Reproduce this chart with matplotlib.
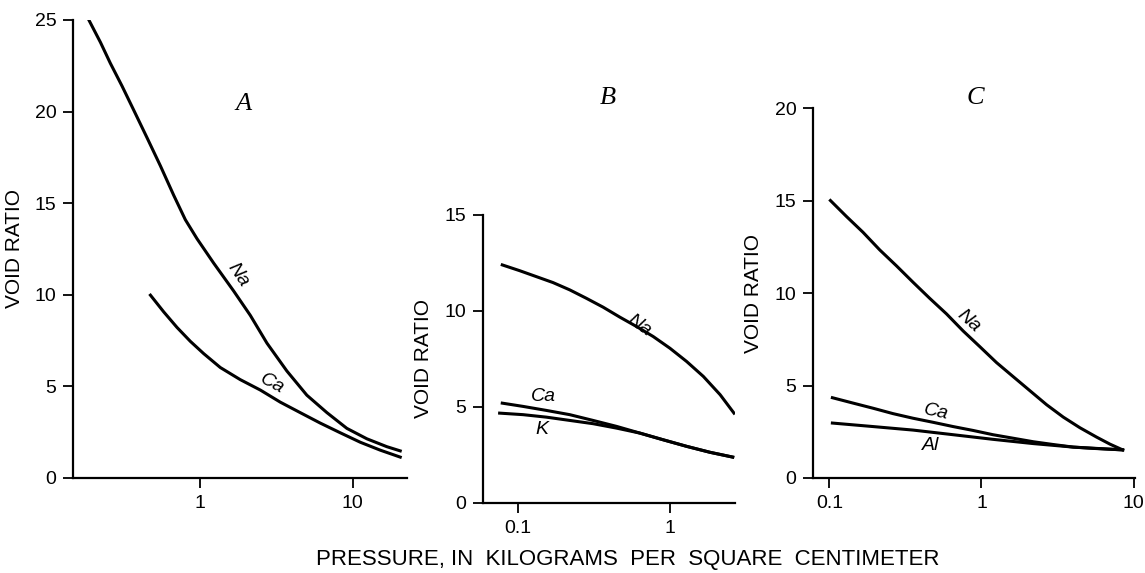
import matplotlib.pyplot as plt
from matplotlib.ticker import NullLocator

plt.rcParams['font.family'] = ['Liberation Sans', 'DejaVu Sans']

# panel A
a_na_x = [0.189, 0.225, 0.261, 0.311, 0.371, 0.454, 0.554, 0.677, 0.806, 0.961,
          1.234, 1.666, 2.14, 2.75, 3.71, 5.01, 6.77, 9.14, 12.35, 16.67, 20.4]
a_na_y = [25.0, 23.78, 22.64, 21.4, 20.08, 18.56, 17.04, 15.43, 14.1, 13.06,
          11.73, 10.21, 8.88, 7.36, 5.84, 4.52, 3.57, 2.71, 2.14, 1.71, 1.48]
a_ca_x = [0.477, 0.582, 0.711, 0.869, 1.062, 1.364, 1.84, 2.49, 3.36, 4.53,
          6.12, 8.27, 11.2, 15.1, 20.4]
a_ca_y = [9.98, 9.07, 8.22, 7.46, 6.79, 6.03, 5.37, 4.80, 4.14, 3.57,
          3.0, 2.47, 1.95, 1.52, 1.14]

# panel B
b_na_x = [0.0788, 0.1025, 0.132, 0.170, 0.219, 0.282, 0.363, 0.468, 0.603, 0.776,
          1.0, 1.288, 1.66, 2.14, 2.64]
b_na_y = [12.40, 12.10, 11.79, 11.48, 11.10, 10.66, 10.20, 9.68, 9.19, 8.67,
          8.06, 7.37, 6.59, 5.64, 4.68]
b_ca_x = [0.0788, 0.108, 0.154, 0.219, 0.312, 0.445, 0.634, 0.904, 1.288, 1.835, 2.59]
b_ca_y = [5.20, 5.03, 4.82, 4.60, 4.30, 3.99, 3.64, 3.29, 2.95, 2.64, 2.39]
b_k_x = [0.0757, 0.108, 0.154, 0.219, 0.312, 0.445, 0.634, 0.904, 1.288, 1.835, 2.59]
b_k_y = [4.68, 4.60, 4.47, 4.30, 4.13, 3.90, 3.64, 3.29, 2.95, 2.64, 2.39]

# panel C
c_na_x = [0.1016, 0.1294, 0.1665, 0.2143, 0.276, 0.355, 0.457, 0.589, 0.757, 0.975,
          1.255, 1.615, 2.08, 2.68, 3.45, 4.43, 5.71, 6.99, 8.47]
c_na_y = [15.0, 14.14, 13.28, 12.33, 11.47, 10.58, 9.71, 8.87, 7.95, 7.10,
          6.24, 5.48, 4.72, 3.96, 3.29, 2.72, 2.21, 1.83, 1.52]
c_ca_x = [0.1047, 0.143, 0.194, 0.262, 0.355, 0.481, 0.651, 0.881, 1.19, 1.615,
          2.19, 2.96, 4.01, 5.43, 8.47]
c_ca_y = [4.34, 4.05, 3.77, 3.48, 3.23, 3.01, 2.78, 2.57, 2.34, 2.15,
          1.96, 1.81, 1.67, 1.60, 1.52]
c_al_x = [0.1047, 0.194, 0.355, 0.651, 1.19, 2.19, 4.01, 8.47]
c_al_y = [2.97, 2.78, 2.59, 2.34, 2.09, 1.86, 1.67, 1.52]

fig = plt.figure(figsize=(11.45, 5.73), dpi=100)
axA = fig.add_axes([0.0638, 0.1658, 0.2917, 0.7993])
axB = fig.add_axes([0.4218, 0.1222, 0.2201, 0.5026])
axC = fig.add_axes([0.710, 0.1658, 0.2812, 0.6457])

lw = 2.2
tick_fs = 14
lab_fs = 14
letter_kw = dict(fontsize=19, style='italic', family='Liberation Serif', ha='center', va='center')


def style(ax, xlim, ylim, xticks, yticks):
    ax.set_xscale('log')
    ax.set_xlim(*xlim)
    ax.set_ylim(*ylim)
    ax.set_xticks(xticks)
    ax.set_xticklabels([('%g' % t) for t in xticks])
    ax.xaxis.set_minor_locator(NullLocator())
    ax.set_yticks(yticks)
    ax.spines['top'].set_visible(False)
    ax.spines['right'].set_visible(False)
    ax.spines['left'].set_linewidth(1.6)
    ax.spines['bottom'].set_linewidth(1.6)
    ax.tick_params(direction='out', length=7, width=1.3, labelsize=tick_fs, pad=5)
    ax.set_ylabel('VOID RATIO', fontsize=15, labelpad=8)


# A
axA.plot(a_na_x, a_na_y, color='black', lw=lw)
axA.plot(a_ca_x, a_ca_y, color='black', lw=lw)
style(axA, (0.149, 22.6), (0, 25), [1, 10], [0, 5, 10, 15, 20, 25])
axA.text(1.78, 11.1, 'Na', fontsize=lab_fs, style='italic', rotation=-56, ha='center', va='center')
axA.text(2.95, 5.15, 'Ca', fontsize=lab_fs, style='italic', rotation=-28, ha='center', va='center')
axA.text(1.94, 20.4, 'A', **letter_kw)

# B
axB.plot(b_na_x, b_na_y, color='black', lw=lw)
axB.plot(b_ca_x, b_ca_y, color='black', lw=lw)
axB.plot(b_k_x, b_k_y, color='black', lw=lw)
style(axB, (0.0588, 2.68), (0, 15), [0.1, 1], [0, 5, 10, 15])
axB.text(0.63, 9.25, 'Na', fontsize=lab_fs, style='italic', rotation=-35, ha='center', va='center')
axB.text(0.146, 5.55, 'Ca', fontsize=lab_fs, style='italic', ha='center', va='center')
axB.text(0.144, 3.85, 'K', fontsize=lab_fs, style='italic', ha='center', va='center')
fig.text(608 / 1145, 1 - 98 / 573, 'B', **letter_kw)

# C
axC.plot(c_na_x, c_na_y, color='black', lw=lw)
axC.plot(c_ca_x, c_ca_y, color='black', lw=lw)
axC.plot(c_al_x, c_al_y, color='black', lw=lw)
style(axC, (0.078, 10.2), (0, 20), [0.1, 1, 10], [0, 5, 10, 15, 20])
axC.text(0.82, 8.5, 'Na', fontsize=lab_fs, style='italic', rotation=-42, ha='center', va='center')
axC.text(0.5, 3.55, 'Ca', fontsize=lab_fs, style='italic', rotation=-12, ha='center', va='center')
axC.text(0.46, 1.78, 'Al', fontsize=lab_fs, style='italic', ha='center', va='center')
fig.text(975 / 1145, 1 - 98 / 573, 'C', **letter_kw)

fig.text(628 / 1145, 1 - 560 / 573, 'PRESSURE, IN  KILOGRAMS  PER  SQUARE  CENTIMETER',
         fontsize=16, ha='center', va='center')

fig.savefig('out.png', dpi=100)
